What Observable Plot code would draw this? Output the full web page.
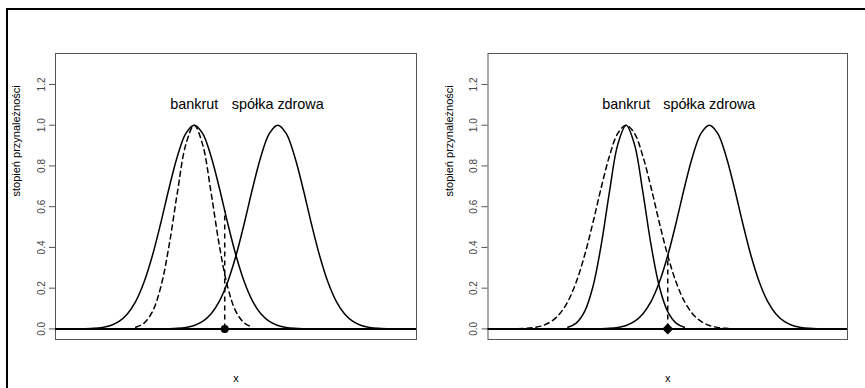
<!DOCTYPE html>
<html>
<head>
<meta charset="utf-8">
<script src="https://cdn.jsdelivr.net/npm/d3@7"></script>
<script src="https://cdn.jsdelivr.net/npm/@observablehq/plot@0.6"></script>
<style>
  body { margin: 0; background: #fff; }
  #wrap { position: relative; width: 865px; height: 388px; overflow: hidden; background: #fff; font-family: "Liberation Sans", Arial, sans-serif; }
  #wrap svg { position: absolute; top: 0; }
  #border { position: absolute; left: 6px; top: 8px; width: 900px; height: 400px; border-left: 2px solid #000; border-top: 2px solid #000; z-index: 5; pointer-events: none; }
</style>
</head>
<body>
<div id="wrap"><div id="border"></div></div>
<script>
// x samples
const xWideBankrut = [1.4,1.6,1.8,2.0,2.2,2.4,2.6,2.8,3.0,3.2,3.4,3.6,3.8,4.0,4.2,4.4,4.6,4.8,5.0,5.2,5.4,5.6,5.8,6.0,6.2,6.4,6.6];
const xWideZdrowa  = [3.4,3.6,3.8,4.0,4.2,4.4,4.6,4.8,5.0,5.2,5.4,5.6,5.8,6.0,6.2,6.4,6.6,6.8,7.0,7.2,7.4,7.6,7.8,8.0,8.2,8.4,8.6];
const xNarrowBankrut = [2.6,2.8,3.0,3.2,3.4,3.6,3.8,4.0,4.2,4.4,4.6,4.8,5.0,5.2,5.4];
// membership values
const yWide = [0.0010,0.0028,0.0072,0.0169,0.0367,0.0734,0.135,0.230,0.360,0.520,0.693,0.849,0.960,1.000,0.960,0.849,0.693,0.520,0.360,0.230,0.135,0.0734,0.0367,0.0169,0.0072,0.0028,0.0010];
const yNarrow = [0.0079,0.0286,0.0847,0.206,0.411,0.674,0.906,1.000,0.906,0.674,0.411,0.206,0.0847,0.0286,0.0079];
// labels
const labelNames = ["bankrut", "spółka zdrowa"];
const labelX = [4, 6];
const labelY = [1.1, 1.1];
const yTicks = [0, 0.2, 0.4, 0.6, 0.8, 1.0, 1.2];
// marked point on x axis per panel and the height of its dashed drop line
const pointX = [4.73, 5.0];
const pointTop = [0.58, 0.36];
const yLabel = "stopień przynależności";
const xLabel = "x";

const pts = (xs, ys) => xs.map((x, i) => ({x, y: ys[i]}));
const labels = labelNames.map((t, i) => ({t, x: labelX[i], y: labelY[i]}));

function panel(solidB, dashedB, idx, left, mLeft, mRight, width) {
  const chart = Plot.plot({
    width, height: 388,
    marginLeft: mLeft, marginRight: mRight, marginTop: 53, marginBottom: 49,
    style: {background: "transparent", fontFamily: "'Liberation Sans', Arial, sans-serif"},
    x: {domain: [0.68, 9.32], axis: null},
    y: {domain: [-0.052, 1.352], axis: null},
    marks: [
      Plot.frame({stroke: "#555", strokeWidth: 1}),
      Plot.axisY(yTicks, {tickSize: 6, tickRotate: -90, tickFormat: d3.format(".1f"), fontSize: 10, fill: "#444", stroke: "#555", tickPadding: 5}),
      Plot.ruleY([0], {stroke: "#000", strokeWidth: 2}),
      Plot.line(solidB, {x: "x", y: "y", stroke: "#000", strokeWidth: 1.5, curve: "catmull-rom"}),
      Plot.line(dashedB, {x: "x", y: "y", stroke: "#000", strokeWidth: 1.5, strokeDasharray: "5,4", curve: "catmull-rom"}),
      Plot.line(pts(xWideZdrowa, yWide), {x: "x", y: "y", stroke: "#000", strokeWidth: 1.5, curve: "catmull-rom"}),
      Plot.ruleX([{x: pointX[idx], y1: 0, y2: pointTop[idx]}], {x: "x", y1: "y1", y2: "y2", stroke: "#000", strokeWidth: 1.5, strokeDasharray: "5,4"}),
      Plot.dot([{x: pointX[idx], y: 0}], {x: "x", y: "y", r: idx === 0 ? 4 : 5, fill: "#000", stroke: "none", symbol: idx === 0 ? "circle" : "diamond2"}),
      Plot.text(labels, {x: "x", y: "y", text: "t", fontSize: 14.4, fill: "#000", textAnchor: "middle", lineAnchor: "middle"}),
      Plot.text([yLabel], {frameAnchor: "left", rotate: -90, dx: -39, fontSize: 11, fill: "#000", lineAnchor: "middle"}),
      Plot.text([xLabel], {frameAnchor: "bottom", dy: 39, fontSize: 11, fill: "#000", lineAnchor: "middle"})
    ]
  });
  chart.style.left = left + "px";
  document.getElementById("wrap").appendChild(chart);
}

panel(pts(xWideBankrut, yWide), pts(xNarrowBankrut, yNarrow), 0, 0, 55, 16, 432);
panel(pts(xNarrowBankrut, yNarrow), pts(xWideBankrut, yWide), 1, 432, 55.5, 18, 433);
</script>
</body>
</html>
